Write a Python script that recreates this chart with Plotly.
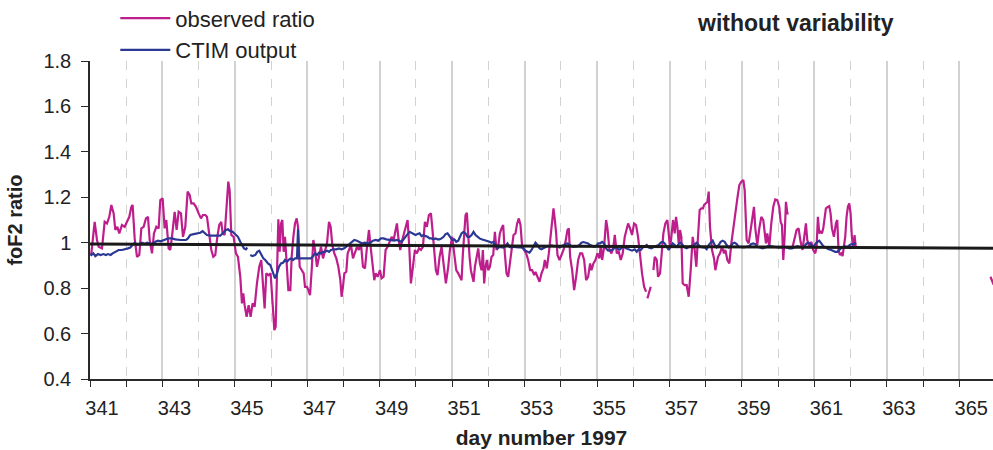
import plotly.graph_objects as go

# ---------------- data ----------------
obs_day = [
    341.010, 341.037, 341.129, 341.193, 341.239, 341.331, 341.405, 341.469, 341.533, 341.589,
    341.653, 341.699, 341.754, 341.809, 341.883, 341.957, 342.021, 342.085, 342.141, 342.177,
    342.233, 342.297, 342.361, 342.417, 342.481, 342.545, 342.601, 342.647, 342.711, 342.766,
    342.831, 342.895, 342.941, 343.005, 343.061, 343.107, 343.171, 343.217, 343.263, 343.337,
    343.392, 343.447, 343.511, 343.567, 343.631, 343.695, 343.751, 343.797, 343.861, 343.925,
    343.999, 344.063, 344.119, 344.183, 344.229, 344.293, 344.349, 344.404, 344.459, 344.515,
    344.569, 344.625, 344.661, 344.717, 344.763, 344.818, 344.855, 344.901, 344.965, 345.029,
    345.085, 345.149, 345.195, 345.232, 345.269, 345.324, 345.379, 345.434, 345.489, 345.545,
    345.609, 345.673, 345.729, 345.775, 345.821, 345.867, 345.931, 345.986, 346.030, 346.090,
    346.126, 346.163, 346.200, 346.237, 346.274, 346.310, 346.347, 346.384, 346.430, 346.476,
    346.531, 346.568, 346.614, 346.660, 346.706, 346.743, 346.789, 346.844, 346.899, 346.936,
    346.991, 347.028, 347.074, 347.120, 347.166, 347.212, 347.267, 347.322, 347.377, 347.433,
    347.488, 347.543, 347.598, 347.644, 347.690, 347.745, 347.801, 347.856, 347.911, 347.947,
    347.984, 348.021, 348.076, 348.113, 348.150, 348.205, 348.260, 348.315, 348.371, 348.426,
    348.481, 348.536, 348.591, 348.647, 348.702, 348.748, 348.794, 348.849, 348.886, 348.941,
    349.005, 349.051, 349.106, 349.161, 349.217, 349.272, 349.327, 349.382, 349.437, 349.474,
    349.511, 349.566, 349.621, 349.676, 349.731, 349.768, 349.814, 349.860, 349.915, 349.970,
    350.025, 350.081, 350.136, 350.191, 350.246, 350.301, 350.356, 350.412, 350.448, 350.503,
    350.549, 350.595, 350.651, 350.706, 350.761, 350.825, 350.890, 350.936, 351.000, 351.056,
    351.111, 351.166, 351.221, 351.258, 351.295, 351.332, 351.368, 351.405, 351.442, 351.479,
    351.516, 351.552, 351.589, 351.626, 351.681, 351.718, 351.764, 351.810, 351.847, 351.883,
    351.920, 351.957, 351.994, 352.040, 352.086, 352.132, 352.178, 352.223, 352.269, 352.315,
    352.361, 352.407, 352.453, 352.499, 352.545, 352.591, 352.637, 352.692, 352.747, 352.793,
    352.839, 352.885, 352.931, 352.986, 353.042, 353.097, 353.152, 353.207, 353.262, 353.299,
    353.354, 353.410, 353.465, 353.520, 353.557, 353.612, 353.667, 353.722, 353.759, 353.796,
    353.833, 353.870, 353.906, 353.961, 354.017, 354.072, 354.127, 354.182, 354.219, 354.256,
    354.311, 354.366, 354.421, 354.477, 354.532, 354.587, 354.642, 354.697, 354.752, 354.807,
    354.844, 354.899, 354.954, 355.010, 355.065, 355.101, 355.140, 355.194, 355.249, 355.286,
    355.341, 355.396, 355.451, 355.488, 355.543, 355.598, 355.653, 355.708, 355.764, 355.819,
    355.856, 355.910, 355.965, 356.021, 356.076, 356.131, 356.186, 356.241, 356.297, 356.352,
    356.370, 356.389, 356.425, 356.481, 356.520, 356.554, 356.591, 356.646, 356.683, 356.738,
    356.775, 356.830, 356.885, 356.940, 356.977, 357.014, 357.050, 357.096, 357.142, 357.179,
    357.216, 357.253, 357.289, 357.326, 357.363, 357.418, 357.473, 357.529, 357.584, 357.639,
    357.694, 357.740, 357.786, 357.832, 357.878, 357.924, 357.952, 358.007, 358.044, 358.081,
    358.117, 358.173, 358.228, 358.265, 358.302, 358.338, 358.394, 358.449, 358.504, 358.541,
    358.596, 358.651, 358.706, 358.761, 358.817, 358.872, 358.927, 358.982, 359.037, 359.074,
    359.129, 359.184, 359.239, 359.294, 359.331, 359.368, 359.423, 359.478, 359.533, 359.588,
    359.625, 359.662, 359.699, 359.754, 359.809, 359.864, 359.919, 359.975, 360.030, 360.067,
    360.103, 360.140, 360.177, 360.214, 360.251, 360.287, 360.340, 360.398, 360.453, 360.508,
    360.563, 360.618, 360.673, 360.729, 360.765, 360.802, 360.857, 360.913, 360.968, 361.023,
    361.060, 361.096, 361.133, 361.170, 361.207, 361.244, 361.280, 361.317, 361.372, 361.409,
    361.446, 361.483, 361.538, 361.593, 361.630, 361.666, 361.703, 361.740, 361.777, 361.814,
    361.850, 361.887, 361.924, 361.961, 361.998, 362.034, 362.071, 362.108, 362.145, 363.000,
    365.860, 365.950,
]
obs_ratio = [
    0.950, 0.953, 1.092, 1.012, 0.982, 0.975, 1.092, 1.085, 1.114, 1.166,
    1.129, 1.056, 1.070, 1.041, 1.078, 1.070, 1.092, 1.114, 1.158, 1.166,
    1.019, 0.938, 0.946, 1.063, 1.070, 1.107, 1.114, 1.012, 0.953, 1.041,
    1.070, 1.063, 1.188, 1.195, 1.063, 1.100, 0.975, 0.968, 1.026, 1.136,
    1.056, 1.136, 1.129, 1.026, 1.070, 1.225, 1.210, 1.173, 1.173, 1.158,
    1.129, 1.107, 1.122, 1.122, 1.114, 1.034, 0.968, 0.938, 0.946, 1.026,
    1.078, 1.092, 1.041, 1.034, 1.129, 1.269, 1.232, 1.034, 1.026, 0.953,
    0.938, 0.850, 0.733, 0.777, 0.725, 0.674, 0.725, 0.674, 0.733, 0.718,
    0.821, 0.894, 0.924, 0.821, 0.711, 0.865, 0.857, 0.865, 0.760, 0.615,
    0.630, 0.879, 1.103, 0.960, 1.085, 1.100, 0.960, 1.026, 0.902, 0.791,
    0.791, 0.938, 1.026, 1.085, 1.107, 1.070, 0.894, 0.879, 0.865, 0.806,
    0.806, 0.791, 0.769, 0.879, 1.012, 0.968, 0.894, 0.938, 0.982, 0.931,
    0.968, 0.997, 1.092, 1.070, 0.990, 0.953, 0.931, 0.894, 0.835, 0.762,
    0.806, 0.865, 0.872, 0.953, 0.968, 0.990, 0.931, 0.960, 0.982, 0.968,
    0.997, 0.894, 0.887, 0.982, 1.056, 0.982, 0.924, 0.835, 0.865, 0.850,
    0.879, 0.843, 0.850, 0.968, 0.982, 1.004, 1.026, 1.012, 1.063, 1.085,
    1.026, 0.968, 1.012, 1.041, 1.070, 1.100, 0.982, 0.821, 0.894, 0.968,
    0.953, 0.975, 0.968, 0.982, 1.092, 1.070, 1.122, 1.129, 1.070, 0.968,
    0.879, 0.857, 0.938, 0.982, 0.894, 0.821, 0.894, 0.968, 1.026, 0.938,
    0.879, 0.865, 0.850, 0.835, 0.953, 1.056, 1.122, 1.132, 1.026, 0.938,
    0.879, 0.850, 0.828, 0.894, 0.938, 0.975, 0.909, 0.879, 0.968, 0.821,
    0.894, 0.924, 0.879, 0.894, 0.938, 0.946, 1.048, 0.968, 0.982, 1.041,
    1.063, 1.078, 0.953, 0.865, 0.850, 0.916, 0.982, 1.034, 1.041, 1.085,
    1.107, 1.078, 0.982, 0.968, 0.953, 0.924, 0.879, 0.879, 0.857, 0.872,
    0.850, 0.828, 0.865, 0.887, 0.924, 0.887, 0.953, 1.034, 1.100, 1.151,
    1.100, 1.041, 0.946, 0.924, 0.946, 0.968, 1.004, 1.056, 1.063, 0.938,
    0.879, 0.791, 0.850, 0.924, 0.953, 0.953, 0.924, 0.835, 0.850, 0.909,
    0.879, 0.909, 0.924, 0.953, 0.931, 0.990, 0.924, 0.982, 1.100, 1.063,
    0.968, 0.953, 0.982, 1.034, 0.953, 0.960, 0.924, 0.953, 1.026, 1.070,
    1.085, 1.063, 1.034, 1.085, 1.078, 1.026, 0.938, 0.865, 0.806, 0.784,
    None, 0.755, 0.777, 0.806, None, 0.879, 0.938, 0.924, 0.850, 0.865,
    0.953, 1.041, 1.085, 1.100, 1.041, 0.975, 1.026, 1.100, 1.041, 1.114,
    1.070, 0.997, 1.056, 1.026, 0.821, 0.813, 0.813, 0.762, 0.879, 1.026,
    0.968, 0.894, 1.026, 1.144, 1.151, 1.151, 1.166, 1.173, 1.180, 1.225,
    1.070, 0.968, 0.931, 0.879, 0.916, 0.938, 0.953, 0.982, 0.953, 0.968,
    0.924, 0.909, 0.997, 1.070, 1.129, 1.195, 1.254, 1.269, 1.276, 1.232,
    1.012, 0.997, 1.056, 1.129, 1.158, 1.063, 0.990, 1.063, 1.114, 1.100,
    1.056, 0.997, 1.041, 0.982, 1.085, 1.158, 1.191, 1.188, 1.158, 1.092,
    1.078, 0.924, 1.026, 1.180, 1.129, 1.129, None, 0.982, 1.026, 1.056,
    1.063, 1.004, 0.968, 1.041, 1.085, 1.012, 0.982, 1.004, 0.968, 0.953,
    0.982, 1.114, 1.041, 1.048, 1.041, 1.063, 1.114, 1.151, 1.158, 1.161,
    1.129, 1.063, 1.026, 1.085, 1.100, 0.968, 0.946, 0.953, 0.941, 0.982,
    1.026, 1.114, 1.158, 1.173, 1.129, 1.026, 0.975, 1.034, 0.975, None,
    0.850, 0.815,
]

ctim_day = [
    341.010, 341.037, 341.092, 341.147, 341.221, 341.294, 341.368, 341.441, 341.496, 341.570,
    341.625, 341.699, 341.791, 341.883, 341.975, 342.049, 342.113, 342.177, 342.233, 342.297,
    342.361, 342.435, 342.509, 342.582, 342.656, 342.729, 342.803, 342.877, 342.950, 343.024,
    343.097, 343.171, 343.263, 343.355, 343.429, 343.502, 343.576, 343.649, 343.704, 343.769,
    343.861, 343.953, 344.045, 344.109, 344.164, 344.229, 344.321, 344.413, 344.505, 344.597,
    344.643, 344.698, 344.753, 344.809, 344.873, 344.937, 345.011, 345.085, 345.149, 345.195,
    345.250, 345.305, 345.342, 345.385, 345.425, 345.489, 345.563, 345.618, 345.673, 345.729,
    345.785, 345.839, 345.913, 345.977, 346.053, 346.108, 346.163, 346.218, 346.273, 346.329,
    346.384, 346.439, 346.494, 346.549, 346.604, 346.660, 346.715, 346.743, 346.770, 346.844,
    346.936, 347.027, 347.101, 347.156, 347.212, 347.267, 347.322, 347.377, 347.432, 347.487,
    347.543, 347.598, 347.653, 347.726, 347.800, 347.873, 347.947, 348.021, 348.094, 348.168,
    348.223, 348.297, 348.370, 348.444, 348.517, 348.591, 348.665, 348.738, 348.812, 348.885,
    348.959, 349.032, 349.106, 349.180, 349.253, 349.327, 349.400, 349.474, 349.547, 349.602,
    349.657, 349.713, 349.768, 349.823, 349.878, 349.933, 349.988, 350.043, 350.099, 350.154,
    350.209, 350.264, 350.319, 350.375, 350.430, 350.485, 350.540, 350.595, 350.650, 350.706,
    350.761, 350.816, 350.871, 350.926, 351.000, 351.056, 351.111, 351.166, 351.221, 351.258,
    351.313, 351.368, 351.423, 351.479, 351.534, 351.589, 351.644, 351.699, 351.754, 351.810,
    351.883, 351.957, 352.030, 352.085, 352.141, 352.196, 352.251, 352.306, 352.361, 352.416,
    352.472, 352.527, 352.582, 352.637, 352.692, 352.766, 352.839, 352.913, 352.968, 353.023,
    353.078, 353.134, 353.189, 353.244, 353.299, 353.354, 353.410, 353.465, 353.520, 353.575,
    353.630, 353.686, 353.741, 353.796, 353.851, 353.906, 353.961, 354.017, 354.072, 354.127,
    354.182, 354.237, 354.292, 354.348, 354.403, 354.458, 354.513, 354.568, 354.623, 354.697,
    354.752, 354.807, 354.862, 354.918, 354.973, 355.028, 355.083, 355.138, 355.193, 355.249,
    355.304, 355.359, 355.414, 355.469, 355.524, 355.580, 355.635, 355.690, 355.745, 355.800,
    355.855, 355.911, 355.966, 356.039, 356.094, 356.149, 356.204, 356.260, 356.315, 356.370,
    356.425, 356.499, 356.572, 356.646, 356.701, 356.756, 356.811, 356.867, 356.922, 356.977,
    357.032, 357.087, 357.142, 357.198, 357.253, 357.308, 357.363, 357.418, 357.473, 357.529,
    357.584, 357.639, 357.694, 357.749, 357.804, 357.860, 357.915, 357.970, 358.025, 358.081,
    358.136, 358.191, 358.246, 358.301, 358.356, 358.412, 358.467, 358.522, 358.577, 358.632,
    358.687, 358.743, 358.798, 358.853, 358.908, 358.982, 359.055, 359.129, 359.202, 359.257,
    359.312, 359.368, 359.423, 359.496, 359.570, 359.643, 359.717, 359.790, 359.864, 359.937,
    360.011, 360.085, 360.158, 360.232, 360.306, 360.379, 360.453, 360.526, 360.600, 360.673,
    360.728, 360.784, 360.839, 360.894, 360.968, 361.023, 361.078, 361.133, 361.188, 361.244,
    361.317, 361.391, 361.464, 361.519, 361.575, 361.630, 361.685, 361.759, 361.832, 361.906,
    361.979, 362.034, 362.090, 362.145,
]
ctim_ratio = [
    0.950, 0.946, 0.953, 0.941, 0.950, 0.946, 0.950, 0.946, 0.950, 0.946,
    0.953, 0.960, 0.968, 0.968, 0.971, 0.975, 0.979, 0.990, 1.000, 0.990,
    0.994, 1.000, 0.994, 1.000, 0.994, 0.997, 1.004, 1.009, 1.006, 1.009,
    1.015, 1.019, 1.019, 1.015, 1.012, 1.012, 1.012, 1.012, 1.019, 1.034,
    1.038, 1.041, 1.044, 1.051, 1.041, 1.034, 1.031, 1.031, 1.031, 1.031,
    1.038, 1.048, 1.056, 1.059, 1.051, 1.048, 1.038, 1.026, 1.004, 0.990,
    0.975, 0.971, 0.979, None, 0.946, 0.941, 0.946, 0.960, 0.965, 0.946,
    0.931, 0.924, 0.909, 0.902, 0.865, 0.843, 0.865, 0.894, 0.909, 0.912,
    0.924, 0.916, 0.926, 0.931, 0.924, 0.931, 0.931, 1.059, 0.931, 0.931,
    0.931, 0.931, 0.931, 0.941, 0.953, 0.946, 0.956, 0.953, 0.960, 0.960,
    0.965, 0.960, 0.968, 0.971, 0.971, 0.975, 0.971, 0.975, 0.985, 0.997,
    1.004, 1.012, 1.009, 1.004, 0.997, 1.000, 0.997, 1.000, 1.009, 1.012,
    1.009, 1.019, 1.019, 1.015, 1.012, 1.012, 1.009, 1.012, 1.009, 1.004,
    1.015, 1.029, 1.038, 1.048, 1.044, 1.038, 1.034, 1.038, 1.041, 1.029,
    1.034, 1.029, 1.026, 1.019, 1.019, 1.015, 1.019, 1.015, 1.015, 1.019,
    1.026, 1.038, 1.041, 1.029, 1.012, 1.015, 1.004, 1.009, 1.026, 1.041,
    1.048, 1.041, 1.026, 1.026, 1.034, 1.048, 1.034, 1.026, 1.019, 1.015,
    1.012, 1.009, 1.004, 1.000, 1.004, 0.990, 0.975, 0.982, 0.982, 0.979,
    0.985, 0.997, 0.982, 0.979, 0.982, 0.979, 0.979, 0.979, 0.975, 0.965,
    0.960, 0.956, 0.968, 0.985, 1.000, 0.990, 0.975, 0.971, 0.975, 0.982,
    0.985, 0.985, 0.988, 0.985, 0.985, 0.985, 0.979, 0.985, 0.990, 0.994,
    0.997, 0.990, 0.985, 0.982, 0.982, 0.985, 0.990, 1.000, 1.003, 1.000,
    0.997, 0.990, 0.985, 0.982, 0.985, 0.997, 0.997, 1.004, 0.997, 0.975,
    0.965, 0.968, 0.968, 0.975, 0.982, 0.971, 0.971, 0.979, 0.982, 0.975,
    0.971, 0.968, 0.965, 0.971, 0.960, 0.971, 0.968, 0.979, 0.985, 0.990,
    0.979, 0.975, 0.982, 0.985, 0.990, 1.000, 1.004, 0.997, 0.985, 0.968,
    0.985, 0.997, 0.990, 0.982, 0.994, 1.000, 0.990, 0.979, 0.975, 0.982,
    0.985, 0.985, 0.994, 1.000, 0.990, 0.982, 0.979, 0.979, 0.971, 0.990,
    1.000, 1.009, 0.990, 0.979, 0.990, 1.004, 1.009, 1.004, 0.990, 0.979,
    0.985, 0.997, 1.000, 0.994, 0.982, 0.979, 0.979, 0.982, 0.985, 0.994,
    0.997, 0.994, 0.982, 0.979, 0.975, 0.979, 0.985, 0.985, 0.982, 0.979,
    0.979, 0.979, 0.982, 0.979, 0.975, 0.975, 0.979, 0.985, 0.982, 0.979,
    0.985, 0.997, 1.000, 0.994, 0.982, 0.994, 1.004, 1.009, 0.997, 0.985,
    0.978, 0.971, 0.968, 0.963, 0.960, 0.960, 0.968, 0.979, 0.985, 0.982,
    0.990, 0.994, 0.994, 1.000,
]

trend_day = [341.0, 366.0]
trend_ratio = [0.994, 0.976]

major_days = list(range(341, 366, 2))
minor_days = list(range(342, 366, 2))
day_labels = [str(d) for d in major_days]
y_ticks = [0.4, 0.6, 0.8, 1.0, 1.2, 1.4, 1.6, 1.8]
y_labels = ["0.4", "0.6", "0.8", "1", "1.2", "1.4", "1.6", "1.8"]

MAGENTA = "#BE1E8C"
BLUE = "#2B3894"
GRID = "#d2d2d2"
AXIS = "#2a2a2a"
FONT = "Liberation Sans, Arial, sans-serif"

fig = go.Figure()
fig.add_trace(go.Scatter(x=obs_day, y=obs_ratio, mode="lines", name="observed ratio",
                         line=dict(color=MAGENTA, width=2.2), connectgaps=False))
fig.add_trace(go.Scatter(x=ctim_day, y=ctim_ratio, mode="lines", name="CTIM output",
                         line=dict(color=BLUE, width=2.2), connectgaps=False))
fig.add_trace(go.Scatter(x=trend_day, y=trend_ratio, mode="lines", showlegend=False,
                         line=dict(color="#1a1a1a", width=3), hoverinfo="skip"))

fig.update_layout(
    width=993, height=450,
    margin=dict(l=90, r=0, t=61, b=71, autoexpand=False),
    paper_bgcolor="white", plot_bgcolor="white",
    font=dict(family=FONT, color="#222222", size=18),
    legend=dict(x=0.028, y=1.2, xanchor="left", yanchor="top", itemwidth=50,
                font=dict(family=FONT, size=22, color="#222222"),
                bgcolor="rgba(0,0,0,0)", tracegroupgap=0),
    annotations=[dict(text="<b>without variability</b>", xref="paper", yref="paper",
                      x=0.781, y=1.12, xanchor="center", yanchor="middle", showarrow=False,
                      font=dict(family=FONT, size=23, color="#222222"))],
)

fig.update_xaxes(
    range=[341, 365.93], tickmode="array", tickvals=major_days, ticktext=day_labels,
    ticks="outside", ticklen=6, tickcolor=AXIS, tickwidth=1,
    showline=True, linecolor=AXIS, linewidth=1.5,
    showgrid=True, gridcolor=GRID, gridwidth=1.5,
    minor=dict(tickmode="array", tickvals=minor_days, ticks="outside", ticklen=6,
               tickcolor=AXIS, showgrid=True, gridcolor=GRID, gridwidth=1.2, griddash="dash"),
    ticklabelshift=12, ticklabelstandoff=4,
    tickfont=dict(family=FONT, size=20, color="#222222"),
    title=dict(text="<b>day number 1997</b>", font=dict(family=FONT, size=21, color="#222222"),
               standoff=13),
    zeroline=False,
)
fig.update_yaxes(
    range=[0.4, 1.8], tickmode="array", tickvals=y_ticks, ticktext=y_labels,
    ticks="outside", ticklen=7, tickcolor=AXIS,
    showline=True, linecolor=AXIS, linewidth=1.5, showgrid=False, zeroline=False,
    ticklabelstandoff=6,
    tickfont=dict(family=FONT, size=20, color="#222222"),
    title=dict(text="<b>foF2 ratio</b>", font=dict(family=FONT, size=20, color="#222222"),
               standoff=15),
)

fig.write_html(
    "out.html",
    config={"displayModeBar": False},
    post_script="document.body.style.margin='0px'; document.body.style.overflow='hidden';",
)
